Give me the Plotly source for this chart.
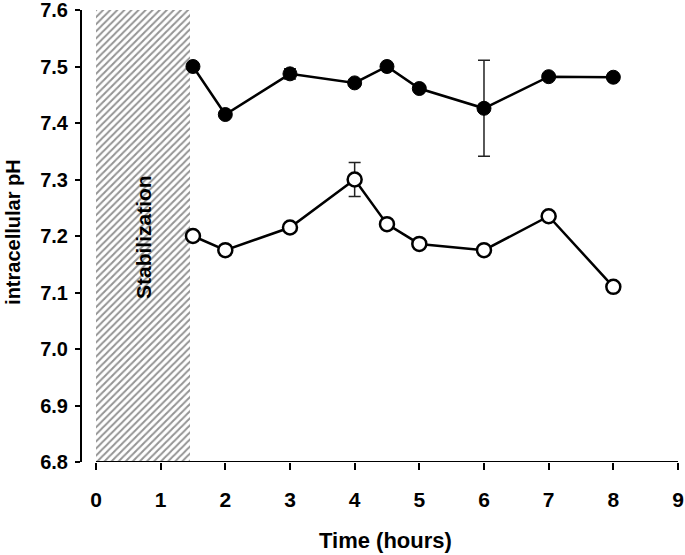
import plotly.graph_objects as go

# Data
time_filled = [1.5, 2, 3, 4, 4.5, 5, 6, 7, 8]
ph_filled = [7.50, 7.415, 7.487, 7.471, 7.50, 7.461, 7.426, 7.482, 7.481]
err_filled = [0.006, 0.004, 0.009, 0.005, 0.004, 0.004, 0.085, 0.005, 0.005]

time_open = [1.5, 2, 3, 4, 4.5, 5, 6, 7, 8]
ph_open = [7.20, 7.175, 7.215, 7.30, 7.221, 7.186, 7.175, 7.235, 7.11]
err_open = [0.008, 0.004, 0.004, 0.03, 0.004, 0.004, 0.004, 0.004, 0.004]

stab_start, stab_end = 0.0, 1.45
y_min, y_max = 6.8, 7.6
x_ticks = [0, 1, 2, 3, 4, 5, 6, 7, 8, 9]
y_ticks = [6.8, 6.9, 7.0, 7.1, 7.2, 7.3, 7.4, 7.5, 7.6]

FONT = "Liberation Sans, Arial, sans-serif"

fig = go.Figure()

# Hatched stabilization period
fig.add_trace(go.Bar(
    x=[(stab_start + stab_end) / 2], y=[y_max - y_min], base=[y_min],
    width=[stab_end - stab_start],
    marker=dict(color="white", line=dict(width=0),
                pattern=dict(shape="/", fgcolor="#2a2a2a", bgcolor="white",
                             size=5, solidity=0.4)),
    showlegend=False, hoverinfo="skip",
))

fig.add_trace(go.Scatter(
    x=time_open, y=ph_open, mode="lines+markers",
    line=dict(color="black", width=2.5),
    marker=dict(symbol="circle", size=14, color="white",
                line=dict(color="black", width=2.5)),
    error_y=dict(type="data", array=err_open, color="#222222",
                 thickness=1.5, width=6),
    showlegend=False,
))

fig.add_trace(go.Scatter(
    x=time_filled, y=ph_filled, mode="lines+markers",
    line=dict(color="black", width=2.5),
    marker=dict(symbol="circle", size=14, color="black",
                line=dict(color="black", width=1)),
    error_y=dict(type="data", array=err_filled, color="#222222",
                 thickness=1.5, width=6),
    showlegend=False,
))

fig.add_annotation(
    x=(stab_start + stab_end) / 2, y=7.198, xref="x", yref="y",
    text="<b>Stabilization</b>", textangle=-90, showarrow=False,
    font=dict(family=FONT, size=21, color="black"),
)

# Axis titles
fig.add_annotation(
    x=-0.116, y=7.207, xref="paper", yref="y",
    xanchor="center", yanchor="middle",
    text="<b>intracellular pH</b>", textangle=-90, showarrow=False,
    font=dict(family=FONT, size=20, color="black"),
)
fig.add_annotation(
    x=0.51, y=-0.1726, xref="paper", yref="paper",
    xanchor="center", yanchor="middle",
    text="<b>Time (hours)</b>", showarrow=False,
    font=dict(family=FONT, size=22, color="black"),
)

# x axis baseline from 0 to 9
fig.add_shape(type="line", xref="x", yref="y",
              x0=x_ticks[0], x1=x_ticks[-1], y0=y_min, y1=y_min,
              line=dict(color="black", width=2), layer="above")

fig.update_layout(
    width=685, height=555,
    margin=dict(l=82, r=7, t=10, b=93),
    plot_bgcolor="white", paper_bgcolor="white",
    font=dict(family=FONT, color="black"),
    bargap=0,
    xaxis=dict(
        range=[-0.216, 9.0], tickvals=x_ticks,
        ticktext=[f"<b>{t}</b>" for t in x_ticks],
        ticks="outside", ticklen=7, tickwidth=2, tickcolor="black",
        showline=False, showgrid=False, zeroline=False,
        tickfont=dict(size=21, family=FONT),
        ticklabelstandoff=12,
        automargin=False, ticklabeloverflow="allow",
    ),
    yaxis=dict(
        range=[y_min, y_max], tickvals=y_ticks,
        ticktext=[f"<b>{t:.1f}</b>" for t in y_ticks],
        ticks="outside", ticklen=5, tickwidth=2, tickcolor="black",
        showline=True, linecolor="black", linewidth=2,
        showgrid=False, zeroline=False,
        tickfont=dict(size=20, family=FONT),
        ticklabelstandoff=3,
        automargin=False, ticklabeloverflow="allow",
    ),
)

fig.write_html(
    "out.html",
    config={"displayModeBar": False},
    post_script="document.body.style.margin='0px';document.body.style.overflow='hidden';",
)
